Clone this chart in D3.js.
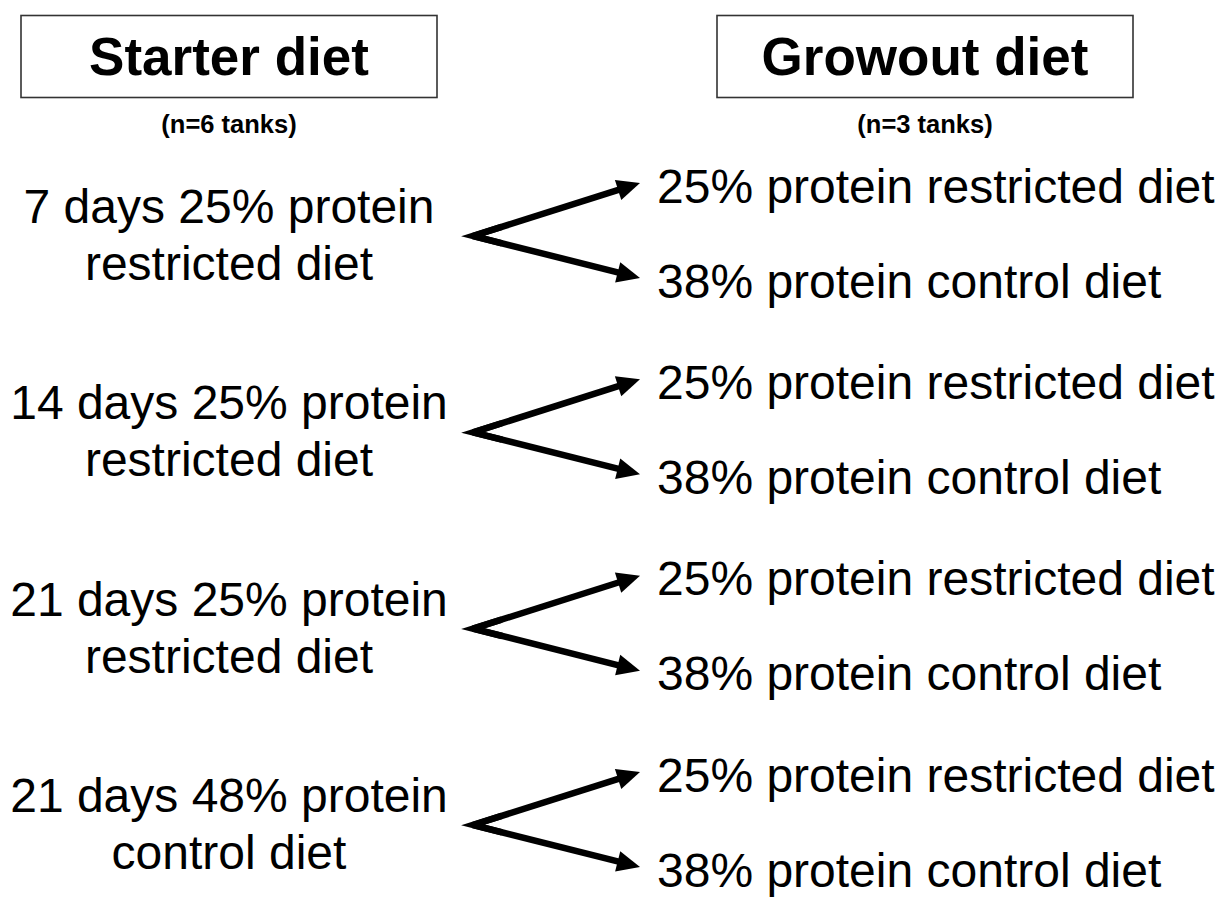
<!DOCTYPE html>
<html>
<head>
<meta charset="utf-8">
<script src="https://cdn.jsdelivr.net/npm/d3@7"></script>
<style>
  html, body { margin: 0; padding: 0; background: #fff; }
  svg { display: block; }
  text { font-family: "Liberation Sans", Arial, sans-serif; fill: #000; }
</style>
</head>
<body>
<svg id="chart" width="1220" height="897"></svg>
<script>
// ---- Data ----
const headers = ["Starter diet", "Growout diet"];
const tankCounts = ["(n=6 tanks)", "(n=3 tanks)"];
const starterLine1 = ["7 days 25% protein", "14 days 25% protein", "21 days 25% protein", "21 days 48% protein"];
const starterLine2 = ["restricted diet", "restricted diet", "restricted diet", "control diet"];
const growoutOptions = ["25% protein restricted diet", "38% protein control diet"];

// ---- Layout ----
const svg = d3.select("#chart");

const colX = d3.scalePoint().domain(headers).range([229, 925]);
const groupY = d3.scaleLinear().domain([0, starterLine1.length - 1]).range([236, 825]);
const branchY = d3.scalePoint().domain(growoutOptions).range([-53, 42]);

const originX = 473, tipX = 640, headLen = 23, headW = 21;

// Headers
const hdr = svg.selectAll("g.hdr").data(headers).join("g").attr("class", "hdr");
hdr.append("rect")
  .attr("x", d => colX(d) - 208)
  .attr("y", 15.5)
  .attr("width", 416)
  .attr("height", 82)
  .attr("fill", "#fff")
  .attr("stroke", "#333")
  .attr("stroke-width", 1.6);
hdr.append("text")
  .attr("x", d => colX(d))
  .attr("y", 75)
  .attr("text-anchor", "middle")
  .attr("font-size", 53)
  .attr("font-weight", "bold")
  .text(d => d);
hdr.append("text")
  .attr("x", d => colX(d))
  .attr("y", 133)
  .attr("text-anchor", "middle")
  .attr("font-size", 25.5)
  .attr("font-weight", "bold")
  .attr("fill", "#111")
  .text((d, i) => tankCounts[i]);

// Groups
const groups = svg.selectAll("g.grp").data(starterLine1).join("g")
  .attr("class", "grp")
  .attr("transform", (d, i) => `translate(0,${groupY(i)})`);

groups.append("text")
  .attr("x", 229).attr("y", -13)
  .attr("text-anchor", "middle")
  .attr("font-size", 48)
  .text(d => d);
groups.append("text")
  .attr("x", 229).attr("y", 44)
  .attr("text-anchor", "middle")
  .attr("font-size", 48)
  .text((d, i) => starterLine2[i]);

growoutOptions.forEach(opt => {
  const ty = branchY(opt);
  const ang = Math.atan2(ty, tipX - originX);
  const bx = tipX - headLen * Math.cos(ang), by = ty - headLen * Math.sin(ang);
  const px = -Math.sin(ang) * headW / 2, py = Math.cos(ang) * headW / 2;
  groups.append("line")
    .attr("x1", originX).attr("y1", 0)
    .attr("x2", bx + 2 * Math.cos(ang)).attr("y2", by + 2 * Math.sin(ang))
    .attr("stroke", "#000")
    .attr("stroke-width", 6.5);
  groups.append("path")
    .attr("d", `M${tipX},${ty} L${bx + px},${by + py} L${bx - px},${by - py} Z`)
    .attr("fill", "#000");
  groups.append("text")
    .attr("x", 657).attr("y", ty + 19.5)
    .attr("font-size", 48)
    .text(opt);
});

// join of the two branches at origin
groups.append("path")
  .attr("d", () => {
    const a1 = Math.atan2(branchY(growoutOptions[0]), tipX - originX);
    const a2 = Math.atan2(branchY(growoutOptions[1]), tipX - originX);
    return `M${originX + 30 * Math.cos(a1)},${30 * Math.sin(a1)} L${originX},0 L${originX + 30 * Math.cos(a2)},${30 * Math.sin(a2)}`;
  })
  .attr("fill", "none")
  .attr("stroke", "#000")
  .attr("stroke-width", 6.5)
  .attr("stroke-linejoin", "miter");
</script>
</body>
</html>
